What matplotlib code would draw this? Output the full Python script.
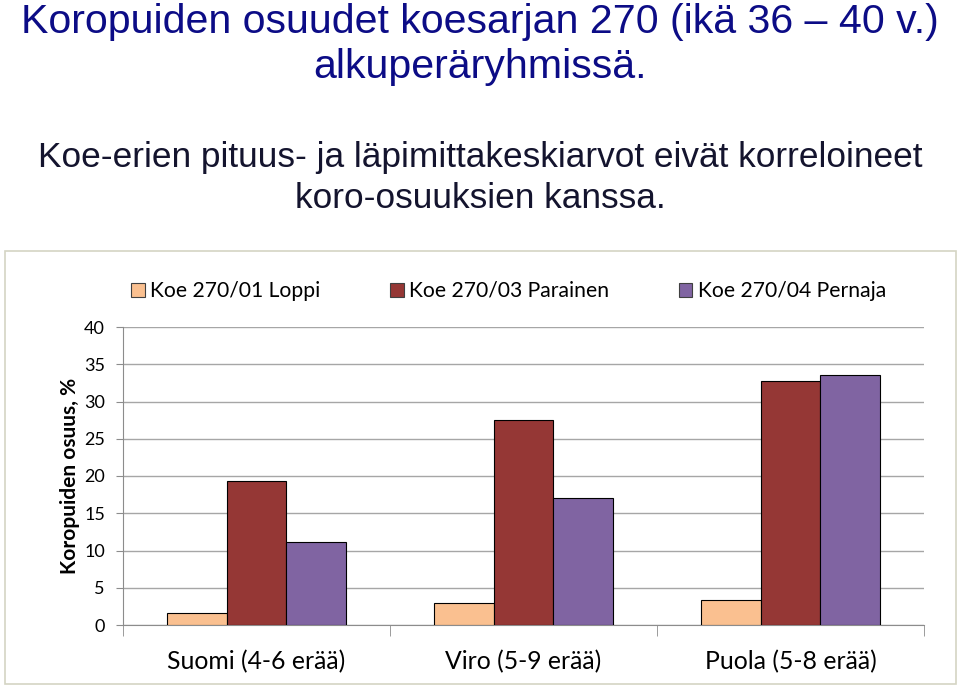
import numpy as np
import matplotlib.pyplot as plt
from matplotlib.patches import Patch, Rectangle

# data
groups = ['Suomi (4-6 erää)', 'Viro (5-9 erää)', 'Puola (5-8 erää)']
series = ['Koe 270/01 Loppi', 'Koe 270/03 Parainen', 'Koe 270/04 Pernaja']
loppi = [1.6, 2.95, 3.4]
parainen = [19.3, 27.5, 32.8]
pernaja = [11.1, 17.0, 33.5]
yticks = [0, 5, 10, 15, 20, 25, 30, 35, 40]

colors = ['#FAC090', '#953735', '#8064A2']
font_txt = ['Lato', 'DejaVu Sans']
font_title = ['Liberation Sans Narrow', 'Liberation Sans', 'DejaVu Sans']

fig = plt.figure(figsize=(9.6, 6.89), dpi=100)
W, H = 960, 689

# chart frame
fig.patches.append(Rectangle((5 / W, 1 - 684 / H), 951 / W, 433 / H,
                             transform=fig.transFigure, fill=False,
                             edgecolor='#d4d4c4', linewidth=1.2))

# titles
fig.text(0.5, 1 - 22 / H, 'Koropuiden osuudet koesarjan 270 (ikä 36 – 40 v.)',
         ha='center', va='center', fontsize=29.6, color='#0c0c86',
         family=font_title, stretch='condensed')
fig.text(0.5, 1 - 67 / H, 'alkuperäryhmissä.',
         ha='center', va='center', fontsize=29.6, color='#0c0c86',
         family=font_title, stretch='condensed')
fig.text(0.5, 1 - 158 / H, 'Koe-erien pituus- ja läpimittakeskiarvot eivät korreloineet',
         ha='center', va='center', fontsize=25.4, color='#14142e',
         family=font_title, stretch='condensed')
fig.text(0.5, 1 - 198 / H, 'koro-osuuksien kanssa.',
         ha='center', va='center', fontsize=25.4, color='#14142e',
         family=font_title, stretch='condensed')

ax = fig.add_axes([123 / W, 1 - 625 / H, (924 - 123) / W, (625 - 327) / H])

x = np.arange(len(groups))
w = 0.223
for i, vals in enumerate([loppi, parainen, pernaja]):
    ax.bar(x + (i - 1) * w, vals, w, color=colors[i], edgecolor='black',
           linewidth=0.8, zorder=3)

ax.set_xlim(-0.5, len(groups) - 0.5)
ax.set_ylim(0, 40)
ax.set_yticks(yticks)
ax.set_yticklabels([str(t) for t in yticks], family=font_txt, fontsize=13)
ax.yaxis.grid(True, color='#a6a6a6', linewidth=1, zorder=0)
ax.tick_params(axis='y', direction='out', length=5, color='#8c8c8c', pad=8)

ax.set_xticks(x)
ax.set_xticklabels(groups, family=font_txt, fontsize=17.8)
ax.set_xticks(np.arange(len(groups) + 1) - 0.5, minor=True)
ax.tick_params(axis='x', which='major', length=0, pad=18)
ax.tick_params(axis='x', which='minor', direction='out', length=8, color='#8c8c8c')

for s in ['top', 'right']:
    ax.spines[s].set_visible(False)
for s in ['left', 'bottom']:
    ax.spines[s].set_color('#8c8c8c')

ax.set_ylabel('Koropuiden osuus, %', family=font_txt, fontsize=15,
              fontweight='bold', labelpad=3)

handles = [Patch(facecolor=c, edgecolor='#404040', linewidth=0.8) for c in colors]
fig.legend(handles, series, loc='center left', bbox_to_anchor=(131 / W, 1 - 291 / H),
           ncol=3, frameon=False, prop={'family': font_txt, 'size': 15.2},
           handlelength=0.65, handleheight=0.65, handletextpad=0.25,
           columnspacing=3.3, borderpad=0, borderaxespad=0)

fig.savefig('out.png', dpi=100)
